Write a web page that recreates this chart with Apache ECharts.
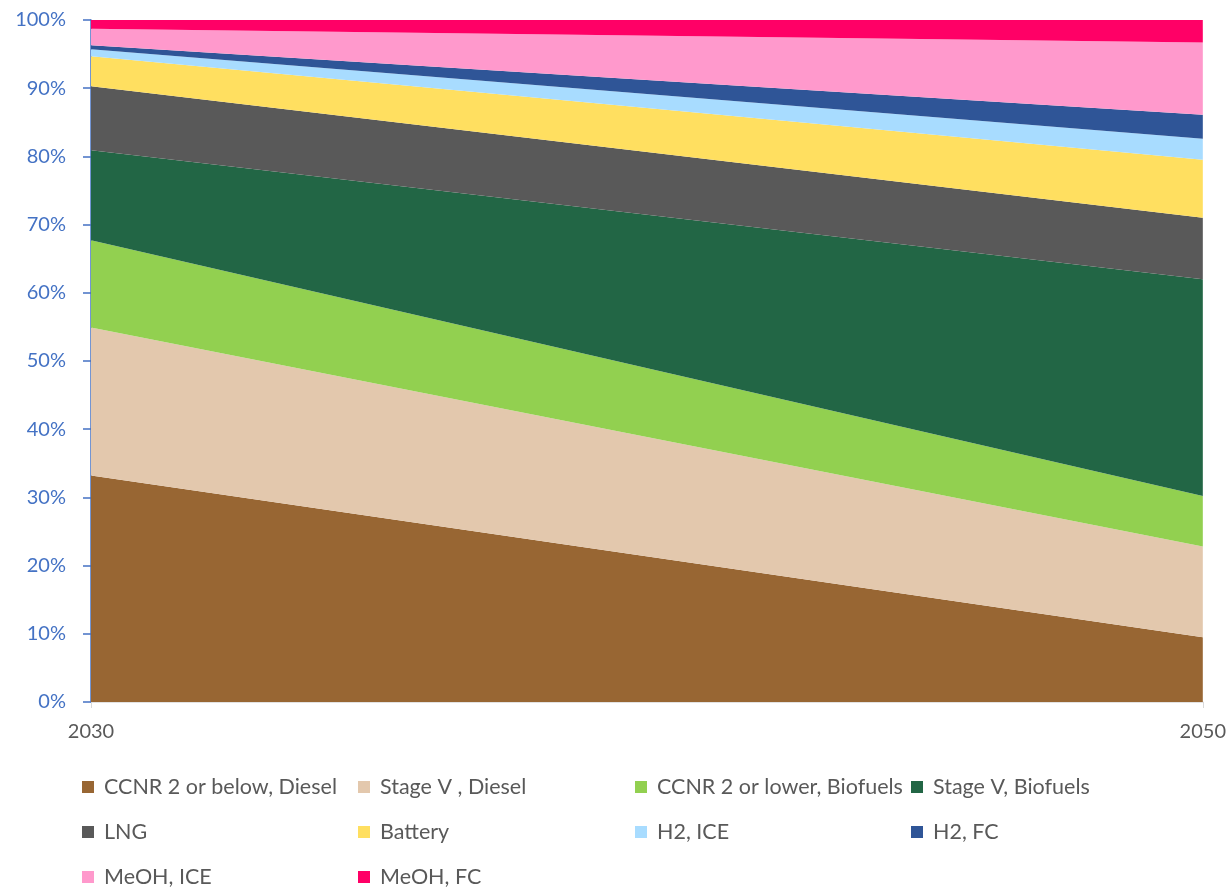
<!DOCTYPE html>
<html>
<head>
<meta charset="utf-8">
<title>Fleet composition 2030–2050</title>
<script src="https://cdn.jsdelivr.net/npm/echarts@6/dist/echarts.min.js"></script>
<style>
  html, body { margin: 0; padding: 0; background: #fff; }
  #chart { width: 1229px; height: 887px; }
</style>
</head>
<body>
<div id="chart"></div>
<script>
// Years on the horizontal axis
const years = ['2030', '2050'];

// Share of the fleet per technology (percent), stacked from the bottom up
const ccnrDiesel     = [33.2, 9.5];
const stageVDiesel   = [21.7, 13.3];
const ccnrBiofuels   = [12.8, 7.4];
const stageVBiofuels = [13.2, 31.8];
const lng            = [9.4, 9.0];
const battery        = [4.4, 8.5];
const h2Ice          = [1.0, 3.1];
const h2Fc           = [0.6, 3.5];
const meohIce        = [2.4, 10.6];
const meohFc         = [1.3, 3.3];

const seriesNames = [
  'CCNR 2 or below, Diesel', 'Stage V , Diesel', 'CCNR 2 or lower, Biofuels', 'Stage V, Biofuels',
  'LNG', 'Battery', 'H2, ICE', 'H2, FC', 'MeOH, ICE', 'MeOH, FC'
];
const seriesValues = [
  ccnrDiesel, stageVDiesel, ccnrBiofuels, stageVBiofuels,
  lng, battery, h2Ice, h2Fc, meohIce, meohFc
];
const seriesColors = [
  '#986633', '#E3C8AD', '#92D050', '#226645',
  '#595959', '#FFDF60', '#A8DCFF', '#2F5597', '#FF99CC', '#FF0066'
];

const FONT = 'Lato';
const TEXT_GREY = '#595959';
const AXIS_BLUE = '#4472C4';

const series = seriesNames.map((name, i) => ({
  name: name,
  type: 'line',
  stack: 'total',
  data: seriesValues[i],
  symbol: 'none',
  smooth: false,
  lineStyle: { width: 0 },
  areaStyle: { color: seriesColors[i], opacity: 1 },
  itemStyle: { color: seriesColors[i] },
  emphasis: { disabled: true }
}));

// Legend grid: four columns, entries filled row by row
const legendColLeft = [82, 358, 635, 911];
const legendRowTop = [776, 821, 866];
const legends = seriesNames.map((name, i) => ({
  orient: 'horizontal',
  left: legendColLeft[i % 4],
  top: legendRowTop[Math.floor(i / 4)],
  itemWidth: 12,
  itemHeight: 12,
  icon: 'rect',
  padding: 0,
  selectedMode: false,
  data: [name],
  textStyle: { fontFamily: FONT, fontSize: 21.5, color: TEXT_GREY, padding: [0, 0, 0, 5], lineHeight: 22 }
}));

const chart = echarts.init(document.getElementById('chart'), null, { renderer: 'canvas' });
chart.setOption({
  animation: false,
  backgroundColor: '#ffffff',
  grid: { left: 91, right: 26, top: 20, bottom: 185 },
  legend: legends,
  xAxis: {
    type: 'category',
    data: years,
    boundaryGap: false,
    axisLine: { show: true, lineStyle: { color: '#D9D9D9', width: 1.5 } },
    axisTick: { show: true, length: 6, lineStyle: { color: '#D9D9D9' } },
    axisLabel: { fontFamily: FONT, fontSize: 20, color: TEXT_GREY, margin: 20 },
    splitLine: { show: false }
  },
  yAxis: {
    type: 'value',
    min: 0,
    max: 100,
    interval: 10,
    axisLine: { show: true, lineStyle: { color: AXIS_BLUE, width: 1.5 } },
    axisTick: { show: true, length: 8, lineStyle: { color: AXIS_BLUE, width: 1.5 } },
    axisLabel: { fontFamily: FONT, fontSize: 20, color: AXIS_BLUE, margin: 25, formatter: '{value}%' },
    splitLine: { show: false }
  },
  series: series
});
</script>
</body>
</html>
